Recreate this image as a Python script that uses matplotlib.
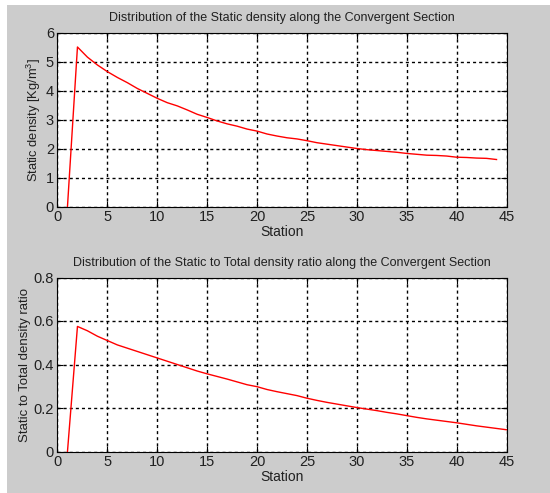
import matplotlib
matplotlib.use("Agg")
import matplotlib.pyplot as plt
from matplotlib.patches import Rectangle

plt.rcParams['font.family'] = ['Liberation Sans', 'DejaVu Sans']
plt.rcParams['mathtext.default'] = 'regular'

# Static density [Kg/m^3] at each station
station_top = list(range(1, 45))
density = [0.0, 5.5, 5.15, 4.88, 4.65, 4.45, 4.27, 4.07, 3.9, 3.73,
           3.58, 3.47, 3.33, 3.18, 3.07, 2.95, 2.85, 2.77, 2.67, 2.6,
           2.5, 2.43, 2.37, 2.33, 2.27, 2.2, 2.15, 2.1, 2.05, 2.0,
           1.96, 1.93, 1.9, 1.87, 1.83, 1.8, 1.77, 1.76, 1.74, 1.7,
           1.69, 1.67, 1.66, 1.62]

# Static to total density ratio at each station
station_bot = list(range(1, 46))
ratio = [0.0, 0.575, 0.555, 0.53, 0.51, 0.49, 0.475, 0.46, 0.445, 0.43,
         0.415, 0.40, 0.385, 0.37, 0.357, 0.345, 0.333, 0.32, 0.307, 0.298,
         0.285, 0.275, 0.266, 0.257, 0.245, 0.235, 0.226, 0.218, 0.21, 0.202,
         0.195, 0.188, 0.18, 0.173, 0.165, 0.157, 0.15, 0.144, 0.138, 0.132,
         0.125, 0.118, 0.112, 0.106, 0.10]

xticks = [0, 5, 10, 15, 20, 25, 30, 35, 40, 45]
yticks_top = [0, 1, 2, 3, 4, 5, 6]
yticks_bot = [0, 0.2, 0.4, 0.6, 0.8]
ylabels_bot = ['0', '0.2', '0.4', '0.6', '0.8']

W, H = 550, 493
fig = plt.figure(figsize=(W / 100, H / 100), dpi=100, facecolor='#cccccc')
# white strips along the left and top edges
fig.patches.append(Rectangle((0, 0), 7 / W, 1, transform=fig.transFigure,
                             facecolor='white', edgecolor='none', zorder=-1))
fig.patches.append(Rectangle((0, 1 - 5 / H), 1, 5 / H, transform=fig.transFigure,
                             facecolor='white', edgecolor='none', zorder=-1))

left, right = 57.5 / W, 506.5 / W
ax1 = fig.add_axes([left, 1 - 206.5 / H, right - left, (206.5 - 32.5) / H])
ax2 = fig.add_axes([left, 1 - 451.5 / H, right - left, (451.5 - 277.5) / H])

text_color = '#202020'


def style(ax):
    ax.set_facecolor('white')
    ax.set_xlim(0, 45)
    ax.set_xticks(xticks)
    ax.grid(True, color='black', linestyle=(0, (2.2, 2.2)), linewidth=1.0)
    ax.tick_params(direction='in', length=4, width=0.8, colors='black',
                   labelcolor=text_color, labelsize=10.5, top=True, right=True,
                   pad=2.5)
    for s in ax.spines.values():
        s.set_color('black')
        s.set_linewidth(0.8)
    ax.set_xlabel('Station', fontsize=10, color=text_color, labelpad=1)


ax1.plot(station_top, density, color='red', linewidth=1.0)
style(ax1)
ax1.set_ylim(0, 6)
ax1.set_yticks(yticks_top)
ax1.set_ylabel('Static density [Kg/m$^{3}$]', fontsize=9.3, color=text_color, labelpad=2)
ax1.set_title('Distribution of the Static density along the Convergent Section',
              fontsize=9, color=text_color, pad=8)

ax2.plot(station_bot, ratio, color='red', linewidth=1.0)
style(ax2)
ax2.set_ylim(0, 0.8)
ax2.set_yticks(yticks_bot)
ax2.set_yticklabels(ylabels_bot)
ax2.set_ylabel('Static to Total density ratio', fontsize=9.5, color=text_color, labelpad=2)
ax2.set_title('Distribution of the Static to Total density ratio along the Convergent Section',
              fontsize=9, color=text_color, pad=8)

fig.savefig('out.png', dpi=100, facecolor=fig.get_facecolor())
